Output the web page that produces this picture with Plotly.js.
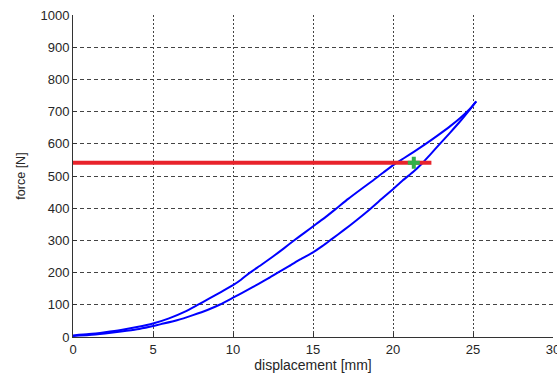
<!DOCTYPE html>
<html>
<head>
<meta charset="utf-8">
<script src="https://cdn.plot.ly/plotly-3.0.1.min.js"></script>
<style>html,body{margin:0;padding:0;background:#fff;}#chart{width:557px;height:374px;}</style>
</head>
<body>
<div id="chart"></div>
<script>
// Upper branch (unloading)
var upperX = [0, 1, 2, 3, 4, 5, 6, 7, 7.73, 8.5, 9.3, 10, 10.5, 11.06, 11.8, 12.5, 13.2, 13.77, 14.5, 15.2, 15.8, 16.48, 17.2, 18, 18.77, 19.4, 20.1, 20.7, 21.3, 22, 22.8, 23.56, 24.2, 24.8, 25.2];
var upperF = [5, 9, 15, 22, 31, 42, 58, 79, 98, 119, 141, 161, 178, 200, 225, 250, 276, 298, 325, 351, 373, 400, 429, 459, 487, 511, 537, 556, 575, 598, 626, 654, 680, 708, 732];
// Lower branch (loading)
var lowerX = [0, 1, 2, 3, 4, 4.8, 5.5, 6.5, 7.5, 8.4, 9.19, 10, 10.8, 11.6, 12.2, 12.8, 13.5, 14.2, 15, 15.6, 16.17, 16.9, 17.7, 18.56, 19.3, 20, 20.6, 21.27, 21.8, 22.3, 22.9, 23.56, 24.2, 24.7, 25.2];
var lowerF = [3, 6, 11, 17, 24, 32, 40, 52, 68, 84, 101, 122, 143, 165, 182, 200, 220, 241, 263, 283, 304, 331, 362, 397, 429, 459, 486, 513, 538, 565, 598, 634, 670, 700, 732];
// Reference level line and marked point
var levelX = [0, 22.4];
var levelF = [541, 541];
var pointX = [21.3];
var pointF = [541];

var xTicks = [0, 5, 10, 15, 20, 25, 30];
var yTicks = [0, 100, 200, 300, 400, 500, 600, 700, 800, 900, 1000];

var traces = [
  {x: lowerX, y: lowerF, mode: 'lines', line: {color: '#0000ff', width: 2, shape: 'spline', smoothing: 0.6}, hoverinfo: 'skip'},
  {x: upperX, y: upperF, mode: 'lines', line: {color: '#0000ff', width: 2, shape: 'spline', smoothing: 0.6}, hoverinfo: 'skip'},
  {x: levelX, y: levelF, mode: 'lines', line: {color: '#e8232b', width: 4}, hoverinfo: 'skip'},
  {x: pointX, y: pointF, mode: 'markers', marker: {symbol: 'cross', size: 10, color: '#34b04a', line: {width: 0}}, hoverinfo: 'skip'}
];

var axisCommon = {
  showline: true, linecolor: '#333', linewidth: 1,
  ticks: 'inside', ticklen: 4, tickcolor: '#333',
  showgrid: true, gridcolor: '#444', gridwidth: 1,
  zeroline: false, mirror: false, ticklabeloverflow: 'allow',
  tickfont: {family: 'Liberation Sans, Arial, sans-serif', size: 13, color: '#262626'}
};

var layout = {
  width: 557, height: 374,
  margin: {l: 73, r: 4, t: 15, b: 37},
  paper_bgcolor: '#fff', plot_bgcolor: '#fff',
  showlegend: false,
  xaxis: Object.assign({}, axisCommon, {
    range: [0, 30], tickvals: xTicks, ticktext: xTicks.map(String), griddash: '2px,2px',
    title: {text: 'displacement [mm]', standoff: 2, font: {family: 'Liberation Sans, Arial, sans-serif', size: 14, color: '#262626'}}
  }),
  yaxis: Object.assign({}, axisCommon, {
    range: [0, 1000], tickvals: yTicks, ticktext: yTicks.map(String), griddash: '4px,3px',
    title: {text: 'force [N]', standoff: 12, font: {family: 'Liberation Sans, Arial, sans-serif', size: 12.5, color: '#262626'}}
  })
};

Plotly.newPlot('chart', traces, layout, {displayModeBar: false, staticPlot: true});
</script>
</body>
</html>
